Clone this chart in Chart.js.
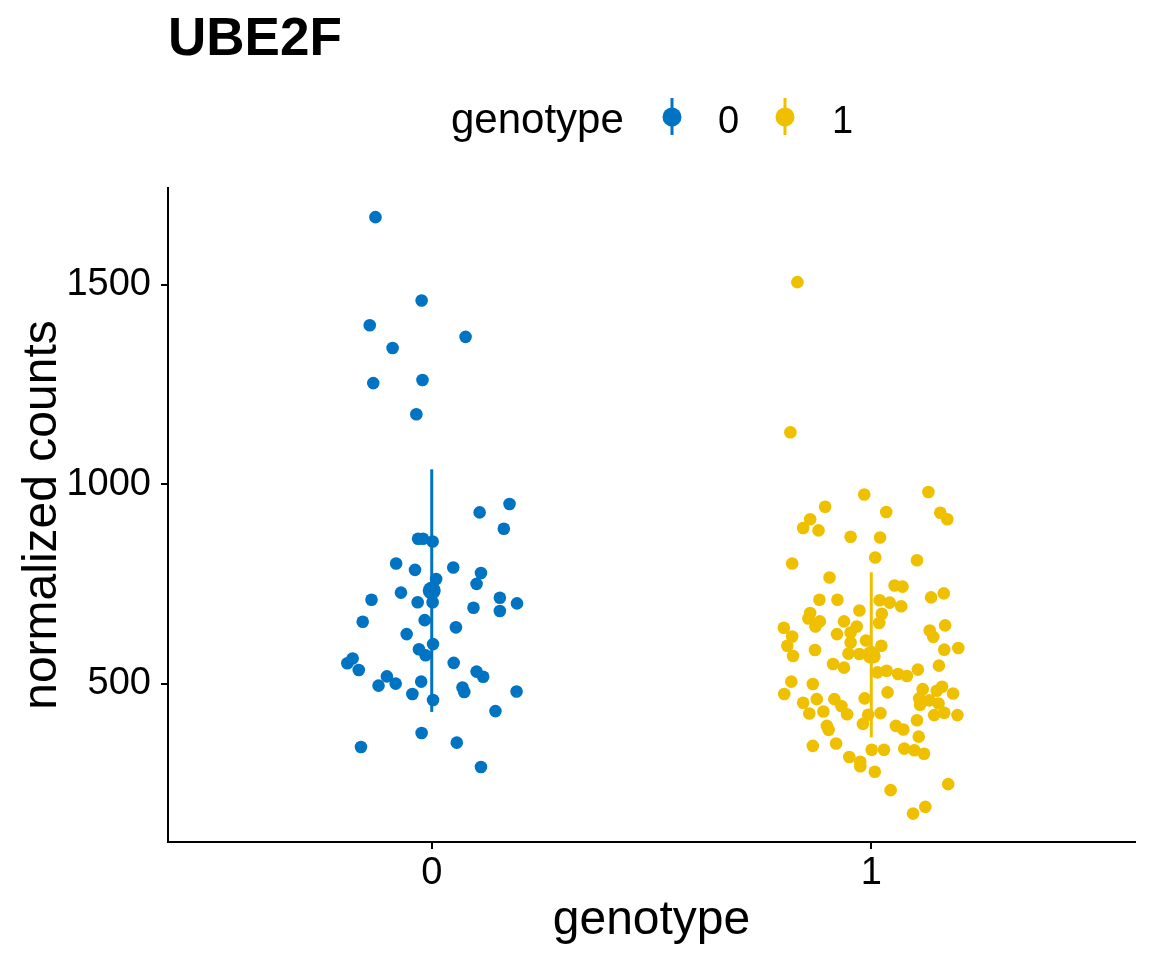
<!DOCTYPE html>
<html>
<head>
<meta charset="utf-8">
<title>UBE2F</title>
<script src="https://cdn.jsdelivr.net/npm/chart.js@4.4.0/dist/chart.umd.min.js"></script>
<style>
  body { margin: 0; background: #fff; }
  #wrap { width: 1152px; height: 960px; }
</style>
</head>
<body>
<div id="wrap"><canvas id="myChart" width="1152" height="960"></canvas></div>
<script>
var geneName = "UBE2F"
var groups = ["0", "1"]
var groupColors = ["#0073C2", "#EFC000"]
var yTicks = [500, 1000, 1500]

// horizontal jitter of each point (in category units) and its count
var g0Jitter = [-0.128,-0.023,-0.141,0.077,-0.089,-0.133,-0.021,-0.035,0.177,0.109,
    0.164,-0.031,-0.020,0.002,-0.081,-0.038,0.049,0.112,0.010,0.102,
    -0.070,-0.137,-0.032,0.002,0.155,0.194,0.095,0.155,-0.157,-0.016,
    0.055,-0.057,0.003,-0.029,-0.014,-0.180,-0.192,-0.166,0.050,-0.102,
    -0.121,-0.082,-0.024,0.102,0.117,0.070,0.074,0.193,-0.044,0.003,
    0.145,-0.023,-0.161,0.057,0.112]
var g0Counts = [1670,1461,1399,1370,1342,1254,1262,1176,951,930,
    889,864,864,857,802,786,792,778,763,751,
    729,711,705,705,716,702,691,683,656,660,
    642,625,600,587,572,564,552,535,553,519,
    496,501,506,531,518,491,480,481,475,460,
    432,377,342,353,292]

var g1Jitter = [-0.168,-0.184,-0.016,0.130,-0.105,0.034,0.157,0.173,-0.139,-0.155,
    -0.120,-0.047,0.020,0.009,0.104,-0.180,-0.095,0.053,0.071,0.165,
    0.136,-0.118,-0.077,0.019,0.042,0.068,-0.027,-0.139,-0.143,-0.117,
    0.024,0.018,-0.062,-0.127,-0.199,-0.033,0.168,-0.047,-0.078,0.133,
    0.141,-0.180,-0.012,-0.047,-0.191,0.023,-0.128,0.166,0.198,-0.178,
    -0.052,-0.027,0.007,-0.087,-0.062,0.014,0.035,0.061,0.081,0.106,
    0.154,-0.182,-0.133,-0.198,0.117,0.161,0.149,0.186,0.037,-0.155,
    -0.124,-0.084,-0.015,0.109,0.132,-0.068,0.111,0.153,-0.141,-0.109,
    -0.055,-0.007,0.021,0.143,0.166,0.196,-0.101,-0.097,-0.019,0.056,
    0.073,0.104,0.108,-0.133,-0.080,0.001,0.029,0.075,0.098,0.120,
    -0.050,-0.025,-0.025,0.008,0.044,0.175,0.123,0.095]
var g1Counts = [1507,1131,975,981,944,931,929,913,913,891,
    885,869,867,817,810,802,767,747,744,727,
    717,711,711,710,704,695,684,678,664,657,
    676,653,657,644,641,644,647,629,625,634,
    618,619,609,604,596,596,585,586,590,570,
    576,575,568,550,541,529,533,525,520,536,
    546,506,500,475,487,493,483,476,479,453,
    462,462,464,464,459,445,448,451,426,431,
    424,423,427,422,428,422,395,385,400,395,
    386,409,368,345,351,335,335,338,334,325,
    317,305,294,280,234,249,192,175]

// mean and sd per group as drawn (mean_sd)
var groupMeans = [734, 573]
var groupSds = [304, 207]

var font = "'Liberation Sans', Arial, Helvetica, sans-serif"

function jitterPoints(pos, jitter, counts) {
    var pts = []
    for (let i = 0; i < counts.length; i++) {
        pts.push({ x: pos + jitter[i], y: counts[i] })
    }
    return pts
}

var datasets = []
var allJitter = [g0Jitter, g1Jitter]
var allCounts = [g0Counts, g1Counts]
for (let g = 0; g < groups.length; g++) {
    datasets.push({
        type: 'scatter',
        label: groups[g],
        data: jitterPoints(g, allJitter[g], allCounts[g]),
        backgroundColor: groupColors[g],
        borderWidth: 0,
        pointRadius: 6.3,
        pointHoverRadius: 6.3,
        order: 3
    })
    // sd bar
    datasets.push({
        type: 'line',
        label: groups[g] + ' sd',
        data: [{ x: g, y: groupMeans[g] - groupSds[g] }, { x: g, y: groupMeans[g] + groupSds[g] }],
        borderColor: groupColors[g],
        borderWidth: 3,
        pointRadius: 0,
        fill: false,
        order: 2
    })
    // mean
    datasets.push({
        type: 'scatter',
        label: groups[g] + ' mean',
        data: [{ x: g, y: groupMeans[g] }],
        backgroundColor: groupColors[g],
        borderWidth: 0,
        pointRadius: 9,
        order: 1
    })
}

// title + legend drawn on top, ggpubr style
var headerPlugin = {
    id: 'header',
    afterDraw: function (chart) {
        var ctx = chart.ctx
        ctx.save()
        ctx.fillStyle = '#000'
        ctx.textBaseline = 'alphabetic'
        ctx.textAlign = 'left'
        ctx.font = 'bold 53px ' + font
        ctx.fillText(geneName, 168, 55)

        ctx.font = '42px ' + font
        ctx.fillText('genotype', 451, 133)

        var iconX = [672, 785]
        var textX = [718, 832]
        for (let g = 0; g < groups.length; g++) {
            ctx.strokeStyle = groupColors[g]
            ctx.lineWidth = 3
            ctx.beginPath()
            ctx.moveTo(iconX[g], 98)
            ctx.lineTo(iconX[g], 135)
            ctx.stroke()
            ctx.fillStyle = groupColors[g]
            ctx.beginPath()
            ctx.arc(iconX[g], 117, 9.5, 0, Math.PI * 2)
            ctx.fill()
            ctx.fillStyle = '#000'
            ctx.font = '38px ' + font
            ctx.fillText(groups[g], textX[g], 133)
        }
        ctx.restore()
    }
}

var ctx = document.getElementById('myChart').getContext('2d')
var myChart = new Chart(ctx, {
    data: { datasets: datasets },
    plugins: [headerPlugin],
    options: {
        responsive: false,
        animation: false,
        devicePixelRatio: 1,
        layout: { padding: { top: 188, right: 17, left: 0, bottom: 0 } },
        plugins: {
            legend: { display: false },
            title: { display: false },
            tooltip: { enabled: false }
        },
        scales: {
            x: {
                type: 'linear',
                min: -0.6,
                max: 1.6,
                afterBuildTicks: function (scale) {
                    scale.ticks = groups.map(function (g, i) { return { value: i } })
                },
                afterFit: function (scale) { scale.height = 118 },
                ticks: {
                    color: '#000',
                    font: { family: font, size: 38 },
                    padding: 2,
                    maxRotation: 0,
                    callback: function (v) { return groups[v] }
                },
                grid: { drawOnChartArea: false, drawTicks: true, tickLength: 7, color: '#000', lineWidth: 2 },
                border: { display: true, color: '#000', width: 2 },
                title: {
                    display: true,
                    text: 'genotype',
                    color: '#000',
                    font: { family: font, size: 48 },
                    padding: { top: 0, bottom: 10 }
                }
            },
            y: {
                type: 'linear',
                min: 104,
                max: 1743,
                afterBuildTicks: function (scale) {
                    scale.ticks = yTicks.map(function (v) { return { value: v } })
                },
                afterFit: function (scale) { scale.width = 168 },
                ticks: {
                    color: '#000',
                    font: { family: font, size: 38 },
                    padding: 10,
                    callback: function (v) { return String(v) }
                },
                grid: { drawOnChartArea: false, drawTicks: true, tickLength: 7, color: '#000', lineWidth: 2 },
                border: { display: true, color: '#000', width: 2 },
                title: {
                    display: true,
                    text: 'normalized counts',
                    color: '#000',
                    font: { family: font, size: 48 },
                    padding: { top: 14, bottom: 0 }
                }
            }
        }
    }
})
</script>
</body>
</html>
